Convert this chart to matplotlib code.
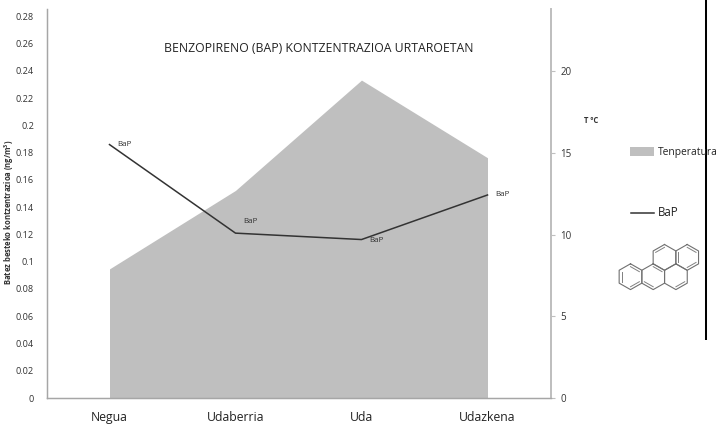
# BaP eta tenperatura urtaroetan
import numpy as np
import matplotlib
matplotlib.use('Agg')
import matplotlib.pyplot as plt

plt.rcParams['font.family'] = ['Open Sans', 'DejaVu Sans']

W, H = 717, 426

# Datuak
urtaroak = ['Negua', 'Udaberria', 'Uda', 'Udazkena']
tenperatura = [7.9, 12.7, 19.45, 14.7]
bap = [0.186, 0.121, 0.1163, 0.149]
bap_ticks = [0, 0.02, 0.04, 0.06, 0.08, 0.1, 0.12, 0.14, 0.16, 0.18, 0.2, 0.22, 0.24, 0.26, 0.28]
bap_tick_labels = ['0', '0.02', '0.04', '0.06', '0.08', '0.1', '0.12', '0.14', '0.16', '0.18', '0.2', '0.22', '0.24', '0.26', '0.28']
temp_ticks = [0, 5, 10, 15, 20]

GRIS = '#bfbfbf'
x = np.arange(len(urtaroak))

fig = plt.figure(figsize=(W / 100, H / 100), dpi=100)

# Ardatzak: pixeletan kokatuta
left, right, top, bottom = 46.5, 550.5, 9, 398
ax = fig.add_axes([left / W, 1 - bottom / H, (right - left) / W, (bottom - top) / H])
ax2 = ax.twinx()
ax.set_zorder(ax2.get_zorder() + 1)
ax.patch.set_visible(False)

ax2.fill_between(x, tenperatura, 0, color=GRIS, lw=0)
ax.plot(x, bap, color='#333333', lw=1.1)

ax.set_xlim(-0.5, 3.5)
ax.set_ylim(0, 0.2855)
ax2.set_ylim(0, 23.8)

ax.set_xticks(x)
ax.set_xticklabels(urtaroak, fontsize=8.8, color='#222222')
ax.tick_params(axis='x', length=0, pad=9.5)
ax.set_yticks(bap_ticks)
ax.set_yticklabels(bap_tick_labels, fontsize=6.6, color='#333333')
ax.tick_params(axis='y', length=0, pad=9)
ax2.set_yticks(temp_ticks)
ax2.tick_params(axis='y', length=3, width=0.8, color=GRIS, labelsize=7, labelcolor='#333333', pad=4)

for a in (ax, ax2):
    a.spines['top'].set_visible(False)
    a.spines['left'].set_color('#a6a6a6')
    a.spines['left'].set_linewidth(0.9)
    a.spines['right'].set_color(GRIS)
    a.spines['right'].set_linewidth(1.3)
    a.spines['bottom'].set_color('#a6a6a6')
    a.spines['bottom'].set_linewidth(0.9)

# BaP etiketak
ax.annotate('BaP', (x[0], bap[0]), xytext=(8, 0), textcoords='offset pixels', fontsize=5.8, color='#333333', va='center')
ax.annotate('BaP', (x[1], bap[1]), xytext=(8, 12), textcoords='offset pixels', fontsize=5.8, color='#333333', va='center')
ax.annotate('BaP', (x[2], bap[2]), xytext=(8, -1), textcoords='offset pixels', fontsize=5.8, color='#333333', va='center')
ax.annotate('BaP', (x[3], bap[3]), xytext=(8, 0), textcoords='offset pixels', fontsize=5.8, color='#333333', va='center')

# Testuak eta molekula: pixel koordenatuetan
over = fig.add_axes([0, 0, 1, 1], zorder=10)
over.set_xlim(0, W)
over.set_ylim(H, 0)
over.axis('off')

over.text(318.7, 49, 'BENZOPIRENO (BAP) KONTZENTRAZIOA URTAROETAN', fontsize=8.8, ha='center', va='center', color='#222222')
over.text(9.5, 212, 'Batez besteko kontzentrazioa (ng/m$\\mathregular{^3}$)', fontsize=5.5, fontweight='bold',
          rotation=90, ha='center', va='center', color='#333333')
over.text(591, 120.5, 'T ºC', fontsize=5.5, fontweight='bold', ha='center', va='center', color='#333333')

# Legenda
over.add_patch(plt.Rectangle((630, 146.5), 24, 9.5, color=GRIS, lw=0))
over.text(658, 152, 'Tenperatura', fontsize=7.4, va='center', color='#222222')
over.plot([631, 654], [212.5, 212.5], color='#333333', lw=1.1)
over.text(658, 212.5, 'BaP', fontsize=8.3, va='center', color='#222222')

# Alboko marra beltza
over.plot([706, 706], [0, 340], color='black', lw=1.45, solid_capstyle='butt')

# Benzo[a]pirenoa
RX, RY = 13.1, 12.9
eraztunak = [(630.5, 276.7), (653.2, 276.7), (675.9, 276.7), (664.5, 257.4), (687.2, 257.4)]
barne = {0: [0, 2, 4], 1: [0, 3], 2: [2], 3: [5], 4: [0, 2, 4]}
for i, (cx, cy) in enumerate(eraztunak):
    ang = np.radians(np.arange(7) * 60 - 90)
    over.plot(cx + RX * np.cos(ang), cy + RY * np.sin(ang), color='#707070', lw=0.8)
    for k in barne[i]:
        over.plot(cx + 0.78 * RX * np.cos(ang[k:k + 2]), cy + 0.78 * RY * np.sin(ang[k:k + 2]), color='#808080', lw=0.7)

fig.savefig('out.png', dpi=100)
